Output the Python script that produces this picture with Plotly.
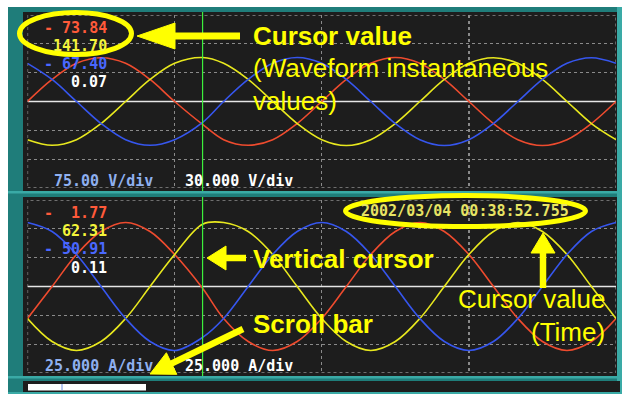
import math
import plotly.graph_objects as go

W, H = 622, 394

# ---- recorded data -------------------------------------------------------
# sample instants in ms (10 ms per division, 4 divisions per screen)
t_ms = [0, 1.67, 3.33, 5, 6.67, 8.33, 10, 11.9, 13.33, 15, 16.67, 18.33, 20,
        21.67, 23.33, 25, 26.67, 28.33, 30, 31.67, 33.33, 35, 36.67, 38.33, 40]
CUR = 7  # index of the sample under the vertical cursor

# voltage channels (V)
volt_red = [0, 71, 123, 141, 123, 71, 0, -73.84, -123, -141, -123, -71, 0,
            71, 123, 142, 123, 71, 0, -71, -123, -142, -123, -71, 0]
volt_yellow = [-123, -141, -123, -71, 0, 71, 123, 141.70, 123, 71, 0, -71, -123,
               -142, -123, -71, 0, 71, 123, 141, 123, 71, 0, -71, -123]
volt_blue = [123, 71, 0, -71, -123, -141, -123, -67.40, 0, 71, 123, 142, 123,
             71, 0, -71, -123, -142, -123, -71, 0, 71, 123, 141, 123]
volt_white = [0, 0, 0, 0, 0, 0, 0, 0.07, 0, 0, 0, 0, 0,
              0, 0, 0, 0, 0, 0, 0, 0, 0, 0, 0, 0]

# current channels (A)
amp_red = [-32, 0, 32, 55, 64, 55, 32, -1.77, -32, -55, -64, -55, -32,
           0, 32, 55, 64, 55, 32, 0, -32, -55, -64, -55, -32]
amp_yellow = [-32, -55, -64, -55, -32, 0, 32, 62.31, 64, 55, 32, 0, -32,
              -55, -64, -55, -32, 0, 32, 55, 64, 55, 32, 0, -32]
amp_blue = [64, 55, 32, 0, -32, -55, -64, -50.91, -32, 0, 32, 55, 64,
            55, 32, 0, -32, -55, -64, -55, -32, 0, 32, 55, 64]
amp_white = [0, 0, 0, 0, 0, 0, 0, 0.11, 0, 0, 0, 0, 0,
             0, 0, 0, 0, 0, 0, 0, 0, 0, 0, 0, 0]

volt_scale_labels = ["75.00 V/div", "30.000 V/div"]
amp_scale_labels = ["25.000 A/div", "25.000 A/div"]
time_label = "2002/03/04 00:38:52.755"

# ---- styling ------------------------------------------------------------
TEAL = "#1f7d7a"
TEAL_LT = "#3aaaa6"
SCREEN = "#1d1d1d"
GRID = "#8a8a8a"
RED, YEL, BLU, WHT = "#ee4b2e", "#e8e81e", "#3656ee", "#e6e6e6"
TXT = {"red": "#ff5a3a", "yel": "#f4f43a", "blu": "#4a68ff", "wht": "#ffffff"}
SCALE_BLUE = "#8fb0f0"
HILITE = "#ffff00"
MONO = "DejaVu Sans Mono"
SANS = "Liberation Sans"

VOLT_DIV = 92.9   # drawn grid step of the voltage screen
AMP_DIV = 28.83   # drawn grid step of the current screen


def px(x):
    return x / W


def py(y):
    return 1 - y / H


fig = go.Figure()


def wave(y, color, xa, ya, width=1.6):
    fig.add_trace(go.Scatter(
        x=t_ms, y=y, mode="lines", xaxis=xa, yaxis=ya,
        line=dict(color=color, width=width, shape="spline"),
        hoverinfo="skip", showlegend=False))


for ys, xa, ya in [((volt_white, volt_red, volt_yellow, volt_blue), "x", "y"),
                   ((amp_white, amp_red, amp_yellow, amp_blue), "x2", "y2")]:
    wave(ys[0], WHT, xa, ya, 1.5)
    wave(ys[1], RED, xa, ya)
    wave(ys[2], YEL, xa, ya)
    wave(ys[3], BLU, xa, ya)

shapes = []


def rect(x0, y0, x1, y1, color, layer="below"):
    shapes.append(dict(type="rect", xref="paper", yref="paper",
                       x0=px(x0), x1=px(x1), y0=py(y1), y1=py(y0),
                       fillcolor=color, line=dict(width=0), layer=layer))


# instrument frame
rect(8, 7, 622, 394, TEAL)
rect(617, 7, 622, 394, TEAL_LT)
rect(8, 191, 622, 193.5, TEAL_LT)
rect(8, 376, 622, 378.5, TEAL_LT)
rect(8, 392, 622, 394, TEAL_LT)
rect(23, 12, 617, 191, SCREEN)
rect(23, 197, 617, 376, SCREEN)
rect(23, 381, 620, 392, SCREEN)
# scroll bar thumb
rect(28, 384, 146, 390.5, "#ffffff")
shapes.append(dict(type="line", xref="paper", yref="paper",
                   x0=px(62), x1=px(62), y0=py(390.5), y1=py(384),
                   line=dict(color="#6f8fe0", width=1)))

# dotted screen borders
for xr, yr, half in [("x", "y", 3 * VOLT_DIV), ("x2", "y2", 3 * AMP_DIV)]:
    shapes.append(dict(type="rect", xref=xr, yref=yr, x0=t_ms[0], x1=t_ms[-1],
                       y0=-half, y1=half, line=dict(color=GRID, width=1.3, dash="dot"),
                       layer="below"))

# vertical cursor
for xr, (ytop, ybot) in [("x", (12, 191)), ("x2", (197, 376))]:
    shapes.append(dict(type="line", xref=xr, yref="paper",
                       x0=t_ms[CUR], x1=t_ms[CUR], y0=py(ybot), y1=py(ytop),
                       line=dict(color="#3cf03c", width=1.2)))


# highlight ellipses and arrows
def ellipse(x0, y0, x1, y1, width=5):
    shapes.append(dict(type="circle", xref="paper", yref="paper",
                       x0=px(x0), x1=px(x1), y0=py(y1), y1=py(y0),
                       line=dict(color=HILITE, width=width)))


def arrow(tail, tip, head_len=22, head_half=12, width=6.5):
    dx, dy = tip[0] - tail[0], tip[1] - tail[1]
    n = math.hypot(dx, dy)
    ux, uy = dx / n, dy / n
    bx, by = tip[0] - ux * head_len, tip[1] - uy * head_len
    shapes.append(dict(type="line", xref="paper", yref="paper",
                       x0=px(tail[0]), y0=py(tail[1]), x1=px(bx + ux * 2), y1=py(by + uy * 2),
                       line=dict(color=HILITE, width=width)))
    p1 = (bx - uy * head_half, by + ux * head_half)
    p2 = (bx + uy * head_half, by - ux * head_half)
    path = "M {} {} L {} {} L {} {} Z".format(px(tip[0]), py(tip[1]), px(p1[0]), py(p1[1]),
                                             px(p2[0]), py(p2[1]))
    shapes.append(dict(type="path", xref="paper", yref="paper", path=path,
                       fillcolor=HILITE, line=dict(color=HILITE, width=1)))


ellipse(19.5, 12.5, 131.5, 54.5)
ellipse(345.5, 195.5, 585.5, 226.5)
arrow((240, 36), (137, 36), head_len=38, head_half=13, width=7)
arrow((246, 258), (207, 258), head_len=19, head_half=12, width=6.5)
arrow((243, 329), (150, 374), head_len=24, head_half=12, width=6.5)
arrow((543, 288), (543, 233), head_len=20, head_half=12, width=6.5)

annotations = []


def label(x, y, text, color, size=15, anchor="left", font=MONO, bold=True):
    annotations.append(dict(
        xref="paper", yref="paper", x=px(x), y=py(y), xanchor=anchor, yanchor="middle",
        text=("<b>%s</b>" % text) if bold else text, showarrow=False,
        font=dict(family=font, size=size, color=color)))


def reading(v):
    s = "%.2f" % abs(v)
    if v < 0:
        return "-" + "\u00a0" * (6 - len(s)) + s
    return s


# cursor readouts taken from the samples under the cursor
for ys, rows in [((volt_red, volt_yellow, volt_blue, volt_white), (28, 46, 64, 82)),
                 ((amp_red, amp_yellow, amp_blue, amp_white), (213, 231, 249, 268))]:
    for series, yrow, key in zip(ys, rows, ("red", "yel", "blu", "wht")):
        label(109, yrow, reading(series[CUR]), TXT[key], anchor="right")

label(155, 181, volt_scale_labels[0], SCALE_BLUE, anchor="right")
label(183, 181, volt_scale_labels[1], TXT["wht"])
label(155, 366, amp_scale_labels[0], SCALE_BLUE, anchor="right")
label(183, 366, amp_scale_labels[1], TXT["wht"])
label(359, 211, time_label, "#e8e464")

# callout texts
label(251, 36, "Cursor value", HILITE, size=26, font=SANS)
label(251, 68, "(Waveform instantaneous", HILITE, size=26, font=SANS, bold=False)
label(251, 101, "values)", HILITE, size=26, font=SANS, bold=False)
label(251, 259, "Vertical cursor", HILITE, size=26, font=SANS)
label(251, 324, "Scroll bar", HILITE, size=26, font=SANS)
label(607, 299, "Cursor value", HILITE, size=26, anchor="right", font=SANS, bold=False)
label(607, 332, "(Time)", HILITE, size=26, anchor="right", font=SANS, bold=False)

xdom = [px(27.5), px(616)]
axis_common = dict(showticklabels=False, ticks="", zeroline=False, showline=False,
                   showgrid=True, gridcolor=GRID, griddash="dot", gridwidth=1.3,
                   fixedrange=True)

fig.update_layout(
    width=W, height=H, autosize=False,
    margin=dict(l=0, r=0, t=0, b=0, pad=0),
    paper_bgcolor="#ffffff", plot_bgcolor="rgba(0,0,0,0)",
    hovermode=False, showlegend=False,
    xaxis=dict(domain=xdom, range=[t_ms[0], t_ms[-1]], dtick=10, tick0=0,
               anchor="y", **axis_common),
    yaxis=dict(domain=[py(188), py(15)], range=[-3 * VOLT_DIV, 3 * VOLT_DIV],
               dtick=VOLT_DIV, tick0=0, anchor="x", **axis_common),
    xaxis2=dict(domain=xdom, range=[t_ms[0], t_ms[-1]], dtick=10, tick0=0,
                anchor="y2", **axis_common),
    yaxis2=dict(domain=[py(373), py(200)], range=[-3 * AMP_DIV, 3 * AMP_DIV],
                dtick=AMP_DIV, tick0=0, anchor="x2", **axis_common),
    shapes=shapes,
    annotations=annotations,
)

fig.write_html("out.html", config={"displayModeBar": False, "staticPlot": True})
